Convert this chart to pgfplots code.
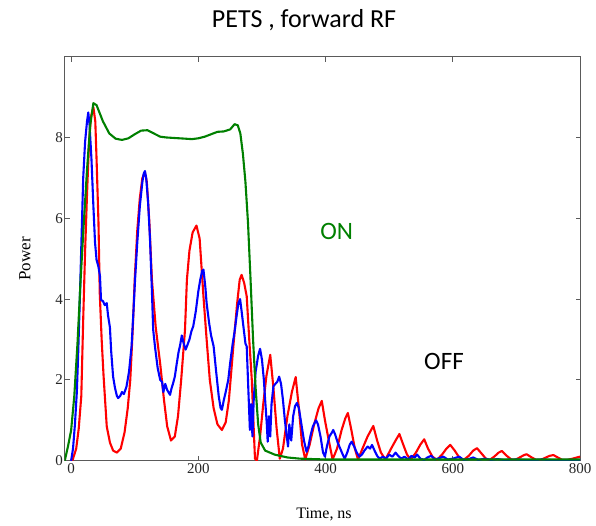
\documentclass[border=0pt]{standalone}
\usepackage{pgfplots}
\pgfplotsset{compat=1.18}
\usepackage{fontspec}
\setmainfont{Liberation Serif}
\newfontfamily\calibri{Carlito}
\definecolor{mcgreen}{RGB}{0,128,0}
\definecolor{frame}{RGB}{90,90,90}

\begin{document}
\begin{tikzpicture}
\useasboundingbox (0pt,0pt) rectangle (596pt,526pt);
\begin{axis}[
  at={(64.5pt,65.3pt)}, anchor=south west,
  scale only axis, width=516.2pt, height=404pt,
  xmin=-10.4, xmax=801, ymin=0, ymax=10,
  xtick={0,200,400,600,800}, ytick={0,2,4,6,8},
  tick align=inside, major tick length=5pt,
  axis line style={frame, line width=0.9pt},
  every tick/.style={frame, line width=0.8pt},
  tick label style={font=\fontsize{15}{15}\selectfont, text=black!85},
  yticklabel style={inner xsep=1.5pt},
  xticklabel style={inner ysep=3pt},
  /pgf/number format/assume math mode=true,
  every axis plot/.append style={line width=2.1pt, line join=round, no marks},
]
\addplot[red] coordinates {
(2,0) (8,0.3) (12,0.8) (16,1.6) (19,3.5) (22,5.2) (25,6.6) (28,7.8) (31,8.5) (35,8.75) (38,8.4) (40,7.46) (43,5.9) (45,4.15) (48,3.0) (51,2.1) (56,0.85) (61,0.45) (66,0.25) (72,0.2) (78,0.3) (84,0.7) (89,1.3) (93,2.0) (97,3.3) (100,4.5) (104,5.7) (108,6.5) (112,7.0) (116,7.13) (119,6.9) (123,5.9) (127,4.48) (133,3.3) (140,2.4) (146,1.5) (151,0.85) (157,0.5) (163,0.6) (168,1.1) (173,2.0) (179,3.24) (182,4.48) (186,5.2) (191,5.65) (197,5.82) (202,5.5) (208,4.07) (213,3.0) (218,2.0) (224,1.3) (230,0.9) (237,0.76) (243,0.95) (248,1.5) (255,2.83) (261,3.9) (265,4.48) (268,4.6) (272,4.4) (276,4.07) (280,3.0) (284,2.0) (287,0.8) (289,0.05) (292,0.0) (297,0.6) (302,1.4) (307,2.1) (313,2.62) (318,1.8) (323,0.8) (328,0.05) (333,0.3) (340,1.1) (347,1.7) (353,2.07) (358,1.3) (363,0.4) (368,0.03) (375,0.4) (382,0.9) (389,1.3) (394,1.48) (399,1.0) (405,0.5) (411,0.03) (418,0.3) (425,0.75) (431,1.05) (435,1.18) (440,0.8) (446,0.3) (451,0.03) (458,0.3) (466,0.6) (475,0.86) (481,0.5) (487,0.2) (494,0.03) (503,0.3) (510,0.5) (516,0.66) (522,0.4) (528,0.15) (534,0.03) (542,0.2) (549,0.4) (555,0.53) (561,0.3) (568,0.1) (575,0.02) (583,0.15) (590,0.3) (596,0.39) (603,0.25) (610,0.08) (617,0.02) (625,0.12) (632,0.25) (638,0.31) (645,0.18) (652,0.05) (658,0.02) (665,0.1) (672,0.2) (677,0.24) (684,0.13) (692,0.03) (698,0.02) (705,0.08) (712,0.14) (716,0.16) (723,0.09) (731,0.02) (738,0.02) (745,0.07) (752,0.12) (758,0.14) (765,0.08) (772,0.02) (780,0.02) (788,0.05) (795,0.08) (800,0.1)
};
\addplot[blue] coordinates {
(0,0) (3,0.3) (6,0.9) (9,1.7) (11,2.6) (14,4.15) (16,5.3) (19,7.0) (22,7.9) (25,8.4) (27,8.62) (29,8.3) (32,7.46) (35,6.3) (37.6,5.4) (40,4.97) (43,4.8) (45.4,4.56) (47,3.98) (50,3.95) (53,3.85) (56,3.9) (58,3.6) (61,3.3) (63,2.7) (66,2.08) (69,1.8) (72,1.6) (74,1.55) (77,1.6) (80,1.7) (83,1.65) (87,1.83) (91,2.2) (95,2.83) (98,3.7) (100.5,4.48) (104,5.4) (108,6.3) (112,6.9) (114,7.1) (116,7.17) (118,7.0) (121,6.4) (124,5.48) (127,4.2) (129,3.24) (132,2.8) (136,2.3) (140,2.0) (143,1.95) (145,1.7) (148,1.9) (151,1.75) (155.5,1.63) (158,1.8) (160,1.9) (163,2.08) (166,2.4) (169,2.7) (171,2.83) (174,3.1) (177,2.9) (180,2.75) (182,2.83) (186,3.0) (189,3.2) (192,3.33) (196,3.7) (200,4.2) (203,4.48) (206,4.7) (208,4.73) (211,4.3) (213,3.9) (217,3.4) (220,3.1) (224,2.83) (228,2.2) (232,1.6) (235,1.3) (237,1.26) (240,1.5) (243,1.7) (247,2.0) (250,2.42) (254,2.9) (257,3.2) (260,3.57) (263,3.9) (265.6,4.0) (268,3.7) (271,3.3) (274,2.9) (276,2.83) (278,2.0) (281,0.76) (283,1.4) (285,0.6) (287,1.5) (290,2.2) (294,2.6) (297,2.77) (300,2.5) (303,2.0) (305,1.5) (307.5,0.93) (309,0.47) (311,1.1) (313,0.6) (315,1.4) (318,1.84) (321,1.9) (324,1.95) (327,2.08) (330,1.9) (333,1.5) (336,1.0) (339,0.6) (341,0.35) (343,0.9) (346,0.5) (349,1.1) (352,1.35) (355,1.43) (358,1.3) (362,0.9) (366,0.5) (370,0.22) (373,0.35) (376,0.6) (380,0.85) (385,1.0) (388,0.9) (392,0.6) (396,0.2) (399,0.1) (402,0.35) (406,0.6) (410,0.7) (412,0.76) (415,0.65) (419,0.45) (423,0.3) (427,0.15) (430,0.05) (434,0.2) (438,0.4) (441,0.47) (445,0.35) (449,0.2) (453,0.1) (457,0.15) (461,0.25) (466,0.35) (470,0.3) (473,0.39) (477,0.25) (481,0.12) (485,0.05) (490,0.1) (495,0.05) (500,0.15) (505,0.1) (510,0.2) (514,0.12) (519,0.05) (524,0.1) (530,0.03) (535,0.12) (540,0.08) (544,0.15) (549,0.05) (555,0.02) (560,0.08) (566,0.12) (572,0.03) (578,0.06) (585,0.1) (592,0.03) (600,0.05) (610,0.1) (617,0.02) (625,0.04) (632,0.08) (640,0.02) (650,0.05) (660,0.02) (670,0.04) (680,0.02) (700,0.03) (720,0.01) (740,0.03) (760,0.01) (780,0.02) (800,0.02)
};
\addplot[mcgreen] coordinates {
(-10,0) (-5,0.35) (0,0.75) (5,1.6) (10,2.9) (15,4.5) (20,5.9) (25,7.2) (30,8.3) (35,8.85) (40,8.8) (45,8.6) (50,8.4) (60,8.1) (70,7.97) (80,7.94) (90,7.98) (100,8.08) (110,8.17) (120,8.18) (130,8.1) (140,8.02) (150,8.0) (170,7.98) (190,7.96) (200,7.98) (210,8.02) (220,8.08) (230,8.14) (240,8.15) (250,8.2) (257,8.33) (262,8.3) (266,8.1) (270,7.6) (274,6.9) (278,5.9) (282,4.5) (286,3.0) (290,1.8) (294,0.9) (298,0.45) (305,0.25) (320,0.15) (340,0.08) (360,0.05) (400,0.03) (800,0.03)
};
\end{axis}
\node[font=\calibri\fontsize{26}{26}\selectfont] at (304pt,506pt) {PETS , forward RF};
\node[font=\fontsize{16}{16}\selectfont] at (324pt,12pt) {Time, ns};
\node[font=\fontsize{17}{17}\selectfont, rotate=90] at (25pt,267pt) {Power};
\node[font=\calibri\fontsize{25}{25}\selectfont, text=mcgreen] at (336.7pt,295pt) {ON};
\node[font=\calibri\fontsize{25}{25}\selectfont] at (444pt,165pt) {OFF};
\end{tikzpicture}
\end{document}
